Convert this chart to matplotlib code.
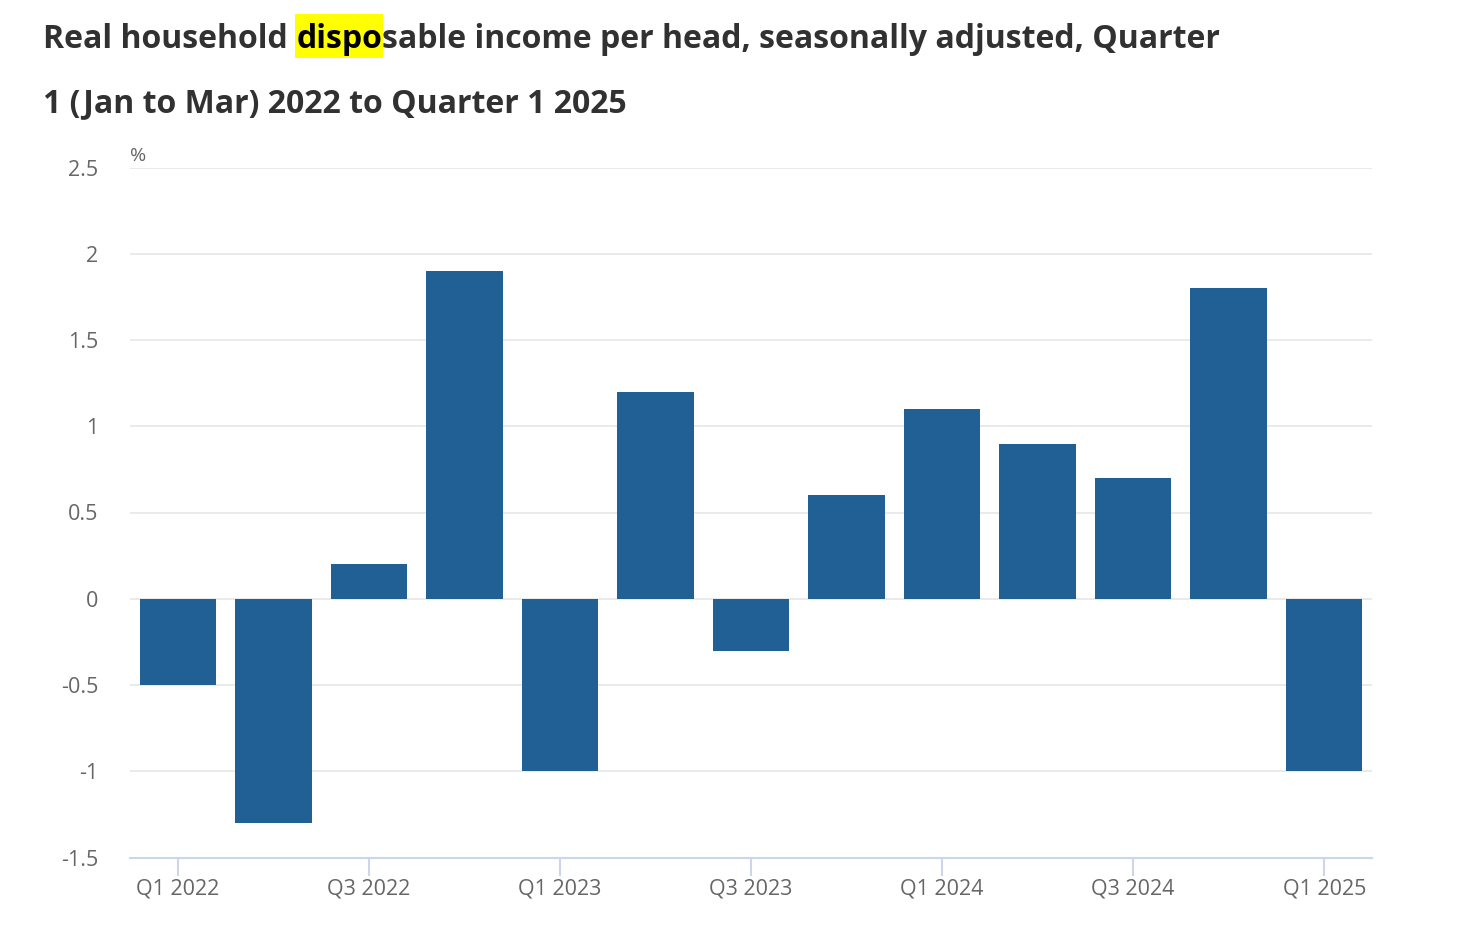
import matplotlib
matplotlib.use("Agg")
import matplotlib.pyplot as plt
from matplotlib.patches import Rectangle

categories = ["Q1 2022", "Q2 2022", "Q3 2022", "Q4 2022",
              "Q1 2023", "Q2 2023", "Q3 2023", "Q4 2023",
              "Q1 2024", "Q2 2024", "Q3 2024", "Q4 2024",
              "Q1 2025"]
values = [-0.5, -1.3, 0.2, 1.9, -1.0, 1.2, -0.3, 0.6, 1.1, 0.9, 0.7, 1.8, -1.0]
yticks = [-1.5, -1, -0.5, 0, 0.5, 1, 1.5, 2, 2.5]
ytick_labels = ["-1.5", "-1", "-0.5", "0", "0.5", "1", "1.5", "2", "2.5"]
title_prefix = "Real household"
highlight_word = "dispo"
title_rest = "sable income per head, seasonally adjusted, Quarter"
title_line2 = "1 (Jan to Mar) 2022 to Quarter 1 2025"

plt.rcParams['font.family'] = ['Open Sans', 'DejaVu Sans']

W, H = 1482, 942
TFS = 23
fig = plt.figure(figsize=(W / 100, H / 100), dpi=100)
fig.patch.set_facecolor("white")

ax = fig.add_axes([130 / W, (H - 857.5) / H, (1372 - 130) / W, (857.5 - 167.5) / H])
x = list(range(len(categories)))
ax.bar(x, values, width=0.8, color="#206095", zorder=3)
ax.set_xlim(-0.5, len(categories) - 0.5)
ax.set_ylim(-1.5, 2.5)

ax.set_yticks(yticks)
ax.set_yticklabels(ytick_labels)
ax.set_xticks(x[::2])
ax.set_xticklabels(categories[::2])

for s in ["top", "right", "left"]:
    ax.spines[s].set_visible(False)
ax.spines["bottom"].set_color("#ccd6eb")
ax.spines["bottom"].set_linewidth(1.5)
ax.spines["bottom"].set_zorder(4)

ax.yaxis.grid(True, color="#e6e6e6", linewidth=1.2, zorder=0)
ax.tick_params(axis="y", length=0, pad=23, labelsize=15.5, labelcolor="#666666")
ax.tick_params(axis="x", length=13, width=1.5, color="#ccd6eb", pad=2,
               labelsize=15.5, labelcolor="#666666")
for lab in ax.get_yticklabels():
    lab.set_horizontalalignment("right")

ax.text(0.0, 1.004, "%", transform=ax.transAxes, fontsize=14, color="#666666",
        ha="left", va="bottom")

tx = 43 / W
fig.text(tx, 1 - 112 / H, title_line2, fontsize=TFS, fontweight="bold",
         color="#323132", ha="left", va="baseline", zorder=5)

fig.canvas.draw()
r = fig.canvas.get_renderer()


def width(s):
    t = fig.text(0, 0.5, s, fontsize=TFS, fontweight="bold")
    w = t.get_window_extent(r).width
    t.remove()
    return w


s1 = title_prefix + " "
s12 = s1 + highlight_word
s123 = s12 + title_rest
x_word = 43 + width(title_prefix + " " + highlight_word) - width(highlight_word)
x_rest = 43 + width(s123) - width(title_rest)
w_word = width(highlight_word)

fig.text(tx, 1 - 48 / H, title_prefix, fontsize=TFS, fontweight="bold",
         color="#323132", ha="left", va="baseline", zorder=5)
fig.patches.append(Rectangle(((x_word - 1) / W, 1 - 58 / H), (w_word + 2) / W, 44 / H,
                             transform=fig.transFigure, facecolor="#ffff00",
                             edgecolor="none", zorder=1))
fig.text(x_word / W, 1 - 48 / H, highlight_word, fontsize=TFS, fontweight="bold",
         color="#000000", ha="left", va="baseline", zorder=6)
fig.text(x_rest / W, 1 - 48 / H, title_rest, fontsize=TFS, fontweight="bold",
         color="#323132", ha="left", va="baseline", zorder=5)

fig.savefig("out.png", dpi=100)
